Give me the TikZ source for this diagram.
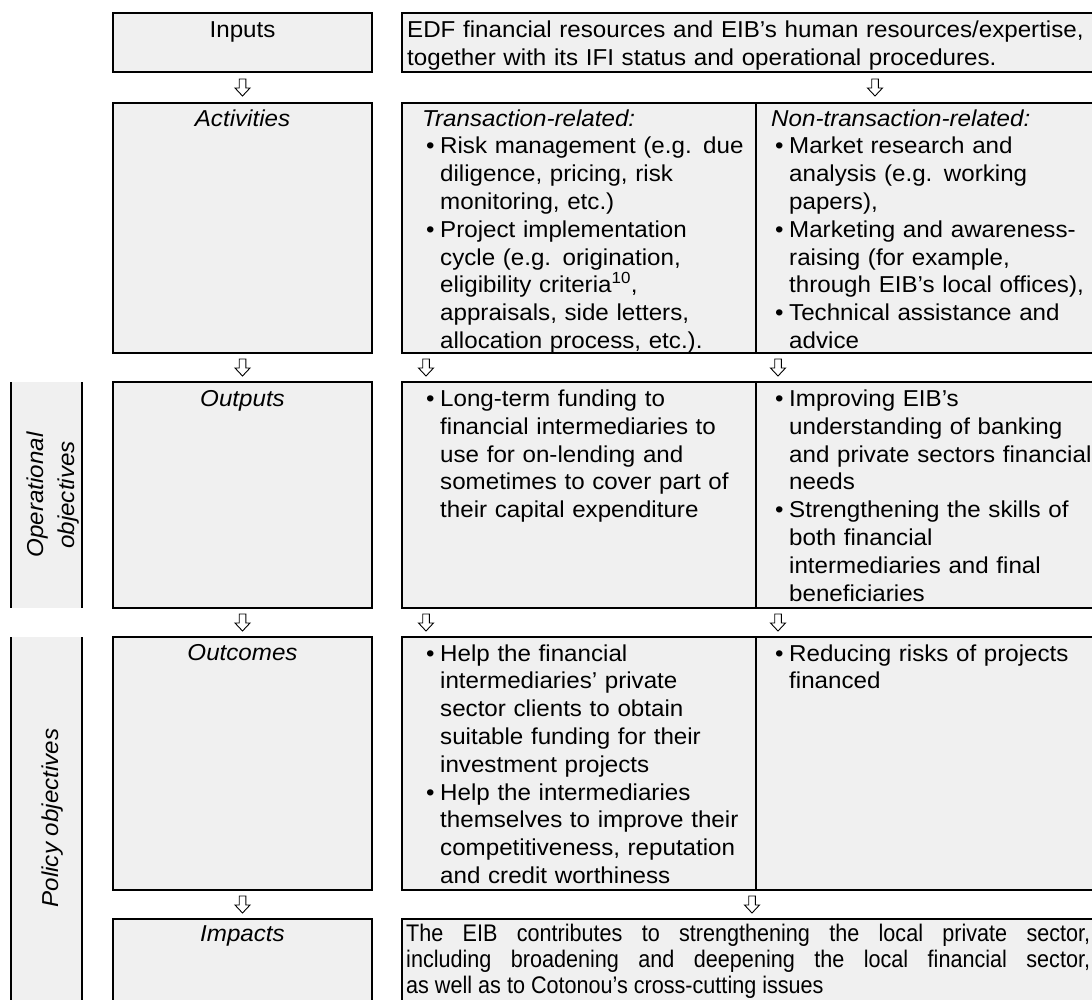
\documentclass[tikz,border=0pt]{standalone}
\usepackage{fontspec}
\setmainfont{Liberation Sans}[FakeStretch=1.05]
\newfontfamily\narrowfont{Liberation Sans}[FakeStretch=0.9]
\usepackage{tikz}
\usetikzlibrary{positioning, calc}
\usepackage{xcolor}
\definecolor{boxgray}{RGB}{240,240,240}
\newcommand{\bodyfont}{\fontsize{23}{27.8}\selectfont}
\newcommand{\bul}{\noindent\hangindent=18pt\hangafter=1\hbox to 18pt{\hskip4pt\textbullet\hfil}}

\begin{document}
\begin{tikzpicture}[x=1pt, y=1pt, node distance=29pt, font=\bodyfont,
  stage/.style={draw, line width=2.3pt, fill=boxgray, inner sep=0pt, outer sep=0pt, minimum width=259pt},
  cell/.style={draw, line width=2.3pt, fill=boxgray, inner sep=0pt, outer sep=0pt},
  side/.style={fill=boxgray, inner sep=0pt, outer sep=0pt, minimum width=71pt},
  txt/.style={anchor=base west, inner sep=0pt, text width=330pt},
  lbl/.style={anchor=base, inner sep=0pt, font=\bodyfont\itshape},
  hollowdown/.pic={\draw[line width=0.9pt, fill=white] (-3.3,8.5) -- (3.3,8.5) -- (3.3,-0.5) -- (7.5,-0.5) -- (0,-8.5) -- (-7.5,-0.5) -- (-3.3,-0.5) -- cycle;}]
  \path[use as bounding box, clip] (0,0) rectangle (1092,-999);

  \node (In) [stage, minimum height=59pt, anchor=north west] at (113,-13) {};
  \node (Act) [stage, minimum height=250pt, below=31pt of In] {};
  \node (Out) [stage, minimum height=226pt, below=of Act] {};
  \node (Oc) [stage, minimum height=253pt, below=of Out] {};
  \node (Imp) [stage, minimum height=120pt, below=of Oc] {};

  \node (InT) [cell, minimum width=700pt, minimum height=59pt, right=30pt of In] {};
  \node (ActT) [cell, minimum width=354pt, minimum height=250pt, right=30pt of Act] {};
  \node (ActN) [cell, minimum width=346pt, minimum height=250pt, right=0pt of ActT] {};
  \node (OutT) [cell, minimum width=354pt, minimum height=226pt, right=30pt of Out] {};
  \node (OutN) [cell, minimum width=346pt, minimum height=226pt, right=0pt of OutT] {};
  \node (OcT) [cell, minimum width=354pt, minimum height=253pt, right=30pt of Oc] {};
  \node (OcN) [cell, minimum width=346pt, minimum height=253pt, right=0pt of OcT] {};
  \node (ImpT) [cell, minimum width=700pt, minimum height=120pt, right=30pt of Imp] {};

  \node (Op) [side, minimum height=226pt, left=31pt of Out] {};
  \node (Pol) [side, minimum height=400pt, anchor=north east] at ([xshift=-31pt]Oc.north west) {};
  \draw[line width=2.3pt] (Op.north west) -- (Op.south west) (Op.north east) -- (Op.south east);
  \draw[line width=2.3pt] (Pol.north west) -- (Pol.south west) (Pol.north east) -- (Pol.south east);
  \node (OpL) [rotate=90, align=center, inner sep=0pt, font=\fontsize{23}{31}\selectfont\itshape] at ([xshift=7pt]Op.center) {Operational\\objectives};
  \node (PolL) [rotate=90, inner sep=0pt, font=\bodyfont\itshape] at (53,-818) {Policy objectives};

  \node (InL) [anchor=base, inner sep=0pt] at ([yshift=-24pt]In.north) {Inputs};
  \node (ActL) [lbl] at ([yshift=-23pt]Act.north) {Activities};
  \node (OutL) [lbl] at ([yshift=-24pt]Out.north) {Outputs};
  \node (OcL) [lbl] at ([yshift=-23pt]Oc.north) {Outcomes};
  \node (ImpL) [lbl] at ([yshift=-22pt]Imp.north) {Impacts};

  \node (InTx) [txt, text width=690pt] at ($(InT.north west)+(5,-24.5)$) {EDF financial resources and EIB’s human resources/expertise,\newline together with its IFI status and operational procedures.\par};
  \node (ActTx) [txt] at ($(ActT.north west)+(20,-23)$) {\noindent\textit{Transaction-related:}\par
    \bul Risk management (e.g. due\newline diligence, pricing, risk\newline monitoring, etc.)\par
    \bul Project implementation\newline cycle (e.g. origination,\newline eligibility criteria\textsuperscript{10},\newline appraisals, side letters,\newline allocation process, etc.).\par};
  \node (ActNx) [txt] at ($(ActN.north west)+(15,-23)$) {\noindent\textit{Non-transaction-related:}\par
    \bul Market research and\newline analysis (e.g. working\newline papers),\par
    \bul Marketing and awareness-\newline raising (for example,\newline through EIB’s local offices),\par
    \bul Technical assistance and\newline advice\par};
  \node (OutTx) [txt] at ($(OutT.north west)+(20,-24.5)$) {\bul Long-term funding to\newline financial intermediaries to\newline use for on-lending and\newline sometimes to cover part of\newline their capital expenditure\par};
  \node (OutNx) [txt] at ($(OutN.north west)+(15,-24.5)$) {\bul Improving EIB’s\newline understanding of banking\newline and private sectors financial\newline needs\par
    \bul Strengthening the skills of\newline both financial\newline intermediaries and final\newline beneficiaries\par};
  \node (OcTx) [txt] at ($(OcT.north west)+(20,-24)$) {\bul Help the financial\newline intermediaries’ private\newline sector clients to obtain\newline suitable funding for their\newline investment projects\par
    \bul Help the intermediaries\newline themselves to improve their\newline competitiveness, reputation\newline and credit worthiness\par};
  \node (OcNx) [txt] at ($(OcN.north west)+(15,-24)$) {\bul Reducing risks of projects\newline financed\par};
  \node (ImpTx) [txt, text width=684pt, align=justify, font=\narrowfont\fontsize{24}{26.3}\selectfont] at ($(ImpT.north west)+(4,-22)$) {\noindent The EIB contributes to strengthening the local private sector,\linebreak including broadening and deepening the local financial sector,\linebreak as well as to Cotonou’s cross-cutting issues\par};

  \path (In) -- (Act) coordinate[midway] (a1);
  \path (Act) -- (Out) coordinate[midway] (a2);
  \path (Out) -- (Oc) coordinate[midway] (a3);
  \path (Oc) -- (Imp) coordinate[midway] (a4);
  \path ($(InT.south west)+(473,0)$) -- ($(ActN.north west)+(119,0)$) coordinate[midway] (b1);
  \path ([xshift=24pt]ActT.south west) -- ([xshift=24pt]OutT.north west) coordinate[midway] (b2);
  \path ([xshift=22pt]ActN.south west) -- ([xshift=22pt]OutN.north west) coordinate[midway] (b3);
  \path ([xshift=24pt]OutT.south west) -- ([xshift=24pt]OcT.north west) coordinate[midway] (b4);
  \path ([xshift=22pt]OutN.south west) -- ([xshift=22pt]OcN.north west) coordinate[midway] (b5);
  \path ([xshift=350pt]OcT.south west) -- ([xshift=350pt]ImpT.north west) coordinate[midway] (b6);
  \pic at (a1) {hollowdown};
  \pic at (a2) {hollowdown};
  \pic at (a3) {hollowdown};
  \pic at (a4) {hollowdown};
  \pic at (b1) {hollowdown};
  \pic at (b2) {hollowdown};
  \pic at (b3) {hollowdown};
  \pic at (b4) {hollowdown};
  \pic at (b5) {hollowdown};
  \pic at (b6) {hollowdown};
\end{tikzpicture}
\end{document}
